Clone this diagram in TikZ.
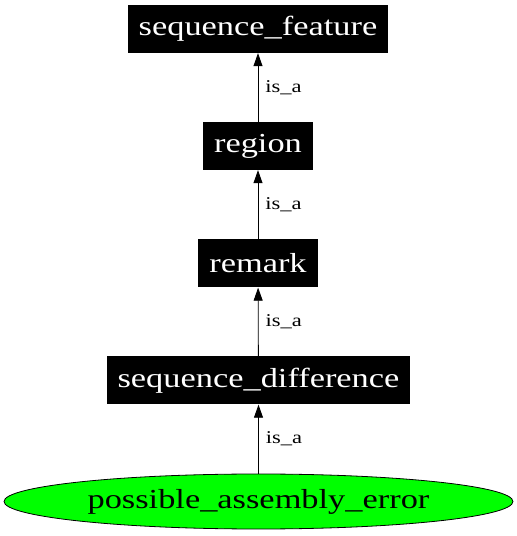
\documentclass[tikz,border=0pt]{standalone}
\usepackage{fontspec}
\newfontfamily\termfont[FakeStretch=1.25]{Liberation Serif}
\usetikzlibrary{arrows.meta,shapes.geometric}
\tikzset{
    term/.style={fill=black,text=white,font=\termfont\fontsize{27.5}{30}\selectfont,minimum height=48pt,inner xsep=11pt},
    leaf/.style={ellipse,draw=black,line width=0.8pt,fill=green,font=\termfont\fontsize{27.5}{30}\selectfont,minimum width=509pt,minimum height=55pt,inner sep=0pt},
    isa/.style={-{Triangle[length=13pt,width=9pt]},line width=0.8pt},
    rel/.style={font=\termfont\fontsize{18}{20}\selectfont,inner sep=0pt}
}
\begin{document}
\begin{tikzpicture}[x=1pt,y=1pt]
            \useasboundingbox (0,0) rectangle (517,536);
            \node[term] (feature) at (258,507) {sequence\_feature};
            \node[term] (region) at (258,390) {region};
            \node[term] (remark) at (258,272.5) {remark};
            \node[term] (difference) at (258.5,155.5) {sequence\_difference};
            \node[leaf] (error) at (258.5,34.5) {possible\_assembly\_error};
            \draw[isa] (region) -- (feature) node[rel,midway,right=7pt] {is\_a};
            \draw[isa] (remark) -- (region) node[rel,midway,right=7pt] {is\_a};
            \draw[isa] (difference) -- (remark) node[rel,midway,right=7pt] {is\_a};
            \draw[isa] (error.north -| difference) -- (difference) node[rel,midway,right=7pt] {is\_a};
          \end{tikzpicture}
\end{document}
